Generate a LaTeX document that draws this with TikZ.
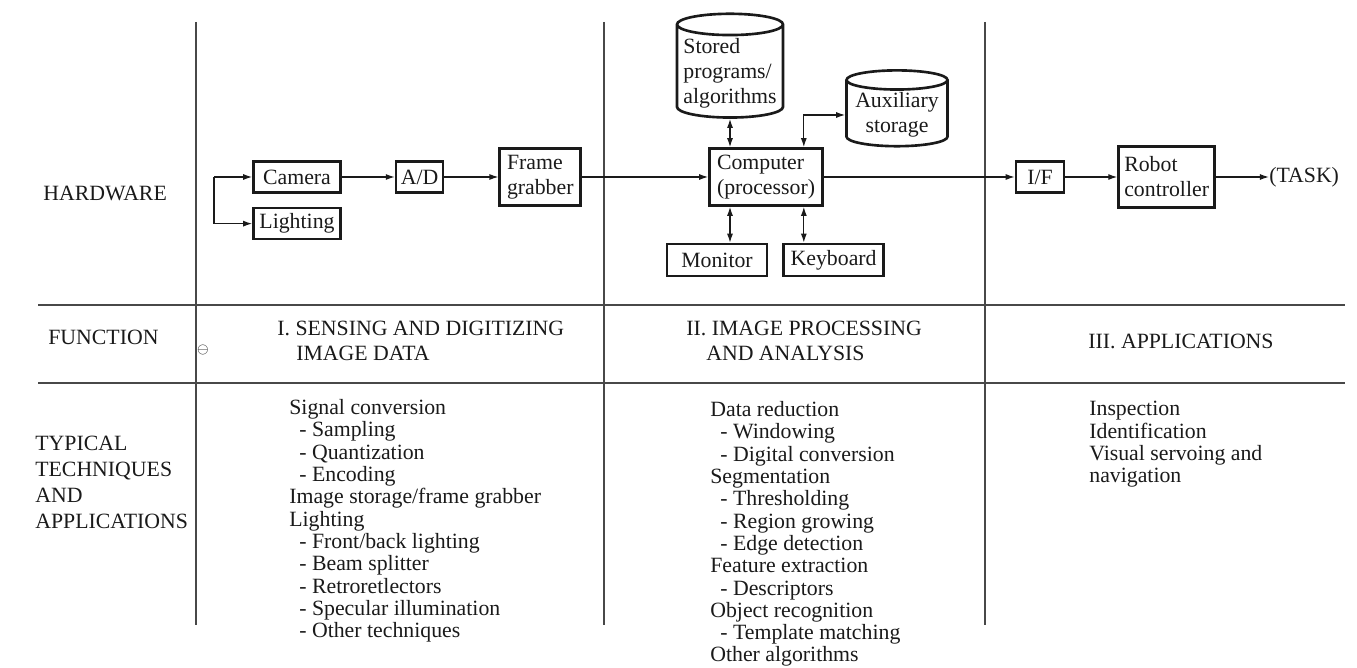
\documentclass[tikz,border=0pt]{standalone}
\usepackage{fontspec}
\setmainfont{Liberation Serif}
\usepackage{tikz}
\usetikzlibrary{arrows.meta,positioning,shapes.geometric}
\usepackage{xcolor}
\definecolor{ink}{HTML}{1A1A1A}
\definecolor{rule}{HTML}{484848}
\tikzset{
  >={Latex[length=1.8mm,width=1.2mm]},
  every node/.style={font=\fontsize{12.4}{14.2}\selectfont,text=ink},
  blk/.style={draw=ink,line width=1.5pt,align=left,inner sep=2pt},
  cyl/.style={cylinder,shape border rotate=90,aspect=0.22,draw=ink,line width=1.5pt,align=left,inner sep=1pt},
  arrow/.style={->,line width=0.7pt,draw=ink},
  dblarr/.style={<->,line width=0.7pt,draw=ink},
  divider/.style={line width=0.9pt,draw=rule},
  rowlabel/.style={anchor=west,align=left,inner sep=0pt},
  head/.style={anchor=west,align=left,inner sep=0pt},
  items/.style={anchor=north west,align=left,inner sep=0pt,font=\fontsize{12.4}{12.7}\selectfont},
}
\newcommand{\dashitem}{\hspace*{2mm}- }

\begin{document}
\begin{tikzpicture}[x=0.2mm,y=-0.2mm,node distance=4mm and 10mm]
\useasboundingbox (0,0) rectangle (1357,668);

% table rules
\foreach \y in {305,383}{\draw[divider] (38,\y) -- (1345,\y);}
\foreach \x in {196,604,985}{\draw[divider] (\x,22) -- (\x,625);}

% row labels
\node[rowlabel] (hwlbl) at (43,193) {HARDWARE};
\node[rowlabel] (fnlbl) at (48,337) {FUNCTION};
\node[rowlabel,font=\fontsize{12.4}{14.8}\selectfont] (tclbl) at (35,482) {TYPICAL\\TECHNIQUES\\AND\\APPLICATIONS};
\node[inner sep=0pt,font=\footnotesize] (mark) at (203,350) {$\ominus$};

% hardware chain
\node[blk,minimum width=17.4mm,minimum height=6.2mm] (camera) at (297,177) {Camera};
\node[blk,minimum width=17.4mm,minimum height=6.2mm,below=2.6mm of camera] (lighting) {Lighting};
\node[blk,minimum width=9.4mm,minimum height=6.2mm,right=10.6mm of camera] (ad) {A/D};
\node[blk,minimum width=16.2mm,minimum height=11.4mm,right=10.8mm of ad] (frame) {Frame\\grabber};
\node[blk,minimum width=22.6mm,minimum height=11.4mm] (computer) at (766,177) {Computer\\(processor)};
\node[cyl,minimum width=21.2mm,minimum height=18.2mm] (store) at (730,73) {Stored\\programs/\\algorithms};
\node[cyl,minimum width=20.2mm,minimum height=12.2mm,align=center] (aux) at (897,115) {Auxiliary\\storage};
\node[blk,minimum width=20mm,minimum height=6.4mm] (monitor) at (717,260) {Monitor};
\node[blk,minimum width=20mm,minimum height=6.4mm,right=2.8mm of monitor] (keyboard) {Keyboard};
\node[blk,minimum width=9.6mm,minimum height=6.2mm] (iface) at (1040,177) {I/F};
\node[blk,minimum width=19.2mm,minimum height=12.2mm,right=10.4mm of iface] (robot) {Robot\\controller};
\node[inner sep=0pt,right=10.6mm of robot] (task) {(TASK)};

\coordinate (feed) at (214,200);
\draw[arrow] (feed |- camera) -- (camera);
\draw[arrow] (feed |- camera) -- (feed |- lighting) -- (lighting);
\foreach \a/\b in {camera/ad,ad/frame,frame/computer,computer/iface,iface/robot,robot/task}{\draw[arrow] (\a) -- (\b);}

\coordinate (tap) at ([xshift=-4mm]computer.north east);
\draw[dblarr] (store.south) -- (store.south |- computer.north);
\draw[dblarr] (tap) |- (aux.west);
\draw[dblarr] (store.south |- monitor.north) -- (store.south |- computer.south);
\draw[dblarr] (tap |- keyboard.north) -- (tap |- computer.south);

% function row
\node[head] (sec1) at (277,341) {I. SENSING AND DIGITIZING\\\hspace*{3.8mm}IMAGE DATA};
\node[head] (sec2) at (686,341) {II. IMAGE PROCESSING\\\hspace*{4mm}AND ANALYSIS};
\node[head] (sec3) at (1088,341) {III. APPLICATIONS};

% techniques row
\node[items] (list1) at (289,399) {Signal conversion\\\dashitem Sampling\\\dashitem Quantization\\\dashitem Encoding\\Image storage/frame grabber\\Lighting\\\dashitem Front/back lighting\\\dashitem Beam splitter\\\dashitem Retroretlectors\\\dashitem Specular illumination\\\dashitem Other techniques};
\node[items] (list2) at (710,401) {Data reduction\\\dashitem Windowing\\\dashitem Digital conversion\\Segmentation\\\dashitem Thresholding\\\dashitem Region growing\\\dashitem Edge detection\\Feature extraction\\\dashitem Descriptors\\Object recognition\\\dashitem Template matching\\Other algorithms};
\node[items] (list3) at (1089,401) {Inspection\\Identification\\Visual servoing and\\navigation};

\end{tikzpicture}
\end{document}
